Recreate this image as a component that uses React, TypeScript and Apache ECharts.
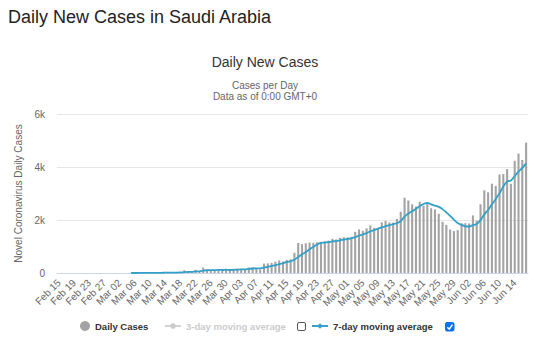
import React, { useEffect, useRef } from "react";
import * as echarts from "echarts";

const dates = [
  "Feb 15","Feb 16","Feb 17","Feb 18","Feb 19","Feb 20","Feb 21","Feb 22","Feb 23","Feb 24","Feb 25","Feb 26","Feb 27","Feb 28","Feb 29",
  "Mar 01","Mar 02","Mar 03","Mar 04","Mar 05","Mar 06","Mar 07","Mar 08","Mar 09","Mar 10","Mar 11","Mar 12","Mar 13","Mar 14","Mar 15","Mar 16","Mar 17","Mar 18","Mar 19","Mar 20","Mar 21","Mar 22","Mar 23","Mar 24","Mar 25","Mar 26","Mar 27","Mar 28","Mar 29","Mar 30","Mar 31",
  "Apr 01","Apr 02","Apr 03","Apr 04","Apr 05","Apr 06","Apr 07","Apr 08","Apr 09","Apr 10","Apr 11","Apr 12","Apr 13","Apr 14","Apr 15","Apr 16","Apr 17","Apr 18","Apr 19","Apr 20","Apr 21","Apr 22","Apr 23","Apr 24","Apr 25","Apr 26","Apr 27","Apr 28","Apr 29","Apr 30",
  "May 01","May 02","May 03","May 04","May 05","May 06","May 07","May 08","May 09","May 10","May 11","May 12","May 13","May 14","May 15","May 16","May 17","May 18","May 19","May 20","May 21","May 22","May 23","May 24","May 25","May 26","May 27","May 28","May 29","May 30","May 31",
  "Jun 01","Jun 02","Jun 03","Jun 04","Jun 05","Jun 06","Jun 07","Jun 08","Jun 09","Jun 10","Jun 11","Jun 12","Jun 13","Jun 14","Jun 15","Jun 16","Jun 17",
];

const dailyCases = [
  0,0,0,0,0,0,0,0,0,0,0,0,0,0,0,
  0,1,0,0,4,0,2,4,4,5,1,24,17,24,17,15,15,38,103,70,48,119,51,205,133,112,92,99,96,154,110,
  157,165,154,140,206,220,190,137,355,364,382,429,472,435,493,518,762,1132,1088,1122,1147,1141,1158,1172,1197,1223,1289,1266,1325,1351,
  1344,1362,1552,1645,1595,1687,1793,1701,1704,1912,1966,1911,1905,2039,2307,2840,2736,2593,2509,2691,2532,2642,2442,2399,2235,1931,1815,1644,1581,1618,1877,
  1881,1869,2171,1975,2591,3121,3045,3369,3288,3717,3733,3921,3366,4233,4507,4267,4919,
];

const movingAvg7 = [
  null,null,null,null,null,null,null,null,null,null,null,null,null,null,null,
  null,null,null,null,0.7,0.7,1,1.6,2,2.7,2.9,5.7,8.1,11.3,13.1,14.7,16.1,21.4,32.7,40.3,43.7,58.3,63.4,90.6,104.1,105.4,108.6,115.9,112.6,127.3,113.7,
  117.1,124.7,133.6,139.4,155.1,164.6,176,173.1,200.3,230.3,264.9,296.7,332.7,367.7,418.6,441.9,498.7,605.9,700,792.9,894.6,987.1,1078.6,1137.1,1146.4,1165.7,1189.6,1206.6,1232.9,1260.4,
  1285,1308.6,1355.6,1406.4,1453.4,1505.1,1568.3,1619.3,1668.1,1719.6,1765.4,1810.6,1841.7,1876.9,1963.4,2125.7,2243.4,2333,2418.4,2530.7,2601.1,2649,2592.1,2544,2492.9,2410.3,2285.1,2158.3,2006.7,1889,1814.4,
  1763.9,1755,1805.9,1853.1,1997.4,2212.1,2379,2591.6,2794.3,3015.1,3266.3,3456.3,3491.3,3661,3823.6,3963.4,4135.1,
];

const yTicks = { min: 0, max: 6000, interval: 2000 };

const FONT = "Liberation Sans, Arial, sans-serif";

export default function App() {
  const ref = useRef<HTMLDivElement>(null);
  useEffect(() => {
    if (!ref.current) return;
    const chart = echarts.init(ref.current, undefined, { renderer: "svg" });
    const legendText = { fontSize: 9.5, fontWeight: "bold", color: "#333", fontFamily: FONT };
    chart.setOption({
      animation: false,
      textStyle: { fontFamily: FONT },
      grid: { left: 57, right: 6, top: 114, bottom: 78, containLabel: false },
      xAxis: {
        type: "category",
        data: dates,
        axisLine: { lineStyle: { color: "#ccd6eb" } },
        axisTick: { show: false },
        axisLabel: {
          interval: 3,
          rotate: 45,
          fontSize: 10,
          color: "#666",
          margin: 8,
          fontFamily: FONT,
        },
      },
      yAxis: {
        type: "value",
        min: yTicks.min,
        max: yTicks.max,
        interval: yTicks.interval,
        name: "Novel Coronavirus Daily Cases",
        nameLocation: "middle",
        nameGap: 26,
        nameTextStyle: { fontSize: 10, color: "#666", fontFamily: FONT },
        axisLabel: {
          fontSize: 10,
          color: "#666",
          margin: 12,
          formatter: (v: number) => (v === 0 ? "0" : v / 1000 + "k"),
        },
        splitLine: { lineStyle: { color: "#e6e6e6" } },
        axisLine: { show: false },
        axisTick: { show: false },
      },
      legend: [
        {
          data: ["Daily Cases"],
          left: 80,
          top: 321,
          padding: 0,
          icon: "circle",
          itemWidth: 10,
          itemHeight: 10,
          textStyle: legendText,
        },
        {
          data: ["3-day moving average"],
          left: 164,
          top: 321,
          padding: 0,
          itemWidth: 16,
          itemHeight: 7,
          inactiveColor: "#cccccc",
          textStyle: legendText,
          selected: { "3-day moving average": false },
        },
        {
          data: ["7-day moving average"],
          left: 311,
          top: 321,
          padding: 0,
          itemWidth: 16,
          itemHeight: 7,
          textStyle: legendText,
        },
      ],
      graphic: [
        {
          type: "text",
          left: 8,
          top: 8,
          style: { text: "Daily New Cases in Saudi Arabia", fontSize: 18, fill: "#222", fontFamily: FONT },
        },
        {
          type: "text",
          x: 265,
          y: 62,
          style: { text: "Daily New Cases", fontSize: 14, fill: "#333", fontFamily: FONT, textAlign: "center", textVerticalAlign: "middle" },
        },
        {
          type: "text",
          x: 265,
          y: 85,
          style: { text: "Cases per Day", fontSize: 10, fill: "#666", fontFamily: FONT, textAlign: "center", textVerticalAlign: "middle" },
        },
        {
          type: "text",
          x: 265,
          y: 96,
          style: { text: "Data as of 0:00 GMT+0", fontSize: 10, fill: "#666", fontFamily: FONT, textAlign: "center", textVerticalAlign: "middle" },
        },
        {
          type: "rect",
          shape: { x: 297.5, y: 322.5, width: 8, height: 8, r: 1.5 },
          style: { fill: "#fff", stroke: "#555", lineWidth: 1 },
        },
        {
          type: "rect",
          shape: { x: 445.5, y: 322.5, width: 8.5, height: 8.5, r: 1.5 },
          style: { fill: "#0b72e7", stroke: "#0b72e7", lineWidth: 1 },
        },
        {
          type: "polyline",
          shape: { points: [[447.3, 327.2], [449.3, 329.2], [452.4, 324.6]] },
          style: { stroke: "#fff", lineWidth: 1.5, fill: "none" },
        },
      ],
      series: [
        {
          name: "Daily Cases",
          type: "bar",
          data: dailyCases,
          barCategoryGap: "45%",
          itemStyle: { color: "#a3a3a3" },
        },
        {
          name: "3-day moving average",
          type: "line",
          data: [],
          symbol: "circle",
          itemStyle: { color: "#cccccc" },
          lineStyle: { color: "#cccccc" },
        },
        {
          name: "7-day moving average",
          type: "line",
          data: movingAvg7,
          smooth: 0.3,
          symbol: "diamond",
          symbolSize: 7,
          showSymbol: false,
          itemStyle: { color: "#33a0c8" },
          lineStyle: { color: "#33a0c8", width: 1.8 },
        },
      ],
    });
    return () => chart.dispose();
  }, []);
  return (
    <div
      ref={ref}
      style={{ position: "fixed", left: 0, top: 0, width: 534, height: 351, background: "#fff" }}
    />
  );
}
